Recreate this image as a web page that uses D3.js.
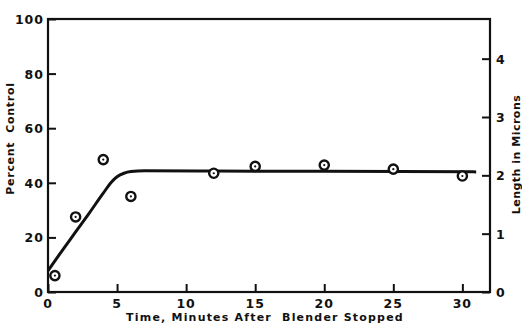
<!DOCTYPE html>
<html>
<head>
<meta charset="utf-8">
<script src="https://cdn.jsdelivr.net/npm/d3@7"></script>
<style>
  body { margin: 0; background: #fff; }
  svg text { font-family: "DejaVu Sans", Verdana, sans-serif; font-weight: bold; fill: #111; white-space: pre; }
</style>
</head>
<body>
<div id="chart"></div>
<script>
// observed points (time in minutes, percent of control)
var pointTimes = [0.5, 2, 4, 6, 12, 15, 20, 25, 30];
var pointValues = [6, 27.5, 48.5, 35, 43.5, 46, 46.5, 45, 42.5];

// hand-drawn fit curve
var curveTimes = [0, 1, 2, 3, 4, 4.6, 5, 5.5, 6, 7, 12, 20, 31];
var curveValues = [7.8, 15, 22, 29, 36.2, 40.3, 42.2, 43.5, 44.1, 44.4, 44.3, 44.2, 44];

var xTicks = [0, 5, 10, 15, 20, 25, 30];
var yTicks = [0, 20, 40, 60, 80, 100];
var lengthTicks = [0, 1, 2, 3, 4];

function drawChart(id) {
    var W = 522, H = 327;
    var margin = { top: 19, right: 32, bottom: 35, left: 48 };
    var width = W - margin.left - margin.right;
    var height = H - margin.top - margin.bottom;

    var svg = d3.select('#' + id)
        .append('svg')
        .attr('width', W)
        .attr('height', H)
        .append('g')
        .attr('transform', `translate(${margin.left}, ${margin.top})`);

    var xScale = d3.scaleLinear().domain([0, 32]).range([0, width]);
    var yScale = d3.scaleLinear().domain([0, 100]).range([height, 0]);
    // right axis: 2 microns sits at ~42.7 percent
    var lenScale = d3.scaleLinear().domain([0, 4.68]).range([height, 0]);

    var xAxis = d3.axisTop(xScale).tickValues(xTicks).tickSize(8).tickFormat("");
    var yAxis = d3.axisRight(yScale).tickValues(yTicks).tickSize(8).tickFormat("");
    var rAxis = d3.axisLeft(lenScale).tickValues(lengthTicks).tickSize(8).tickFormat("");

    // frame
    svg.append('rect')
        .attr('width', width)
        .attr('height', height)
        .attr('fill', 'none')
        .attr('stroke', '#111')
        .attr('stroke-width', 2.2);

    svg.append('g')
        .attr('transform', `translate(0, ${height})`)
        .call(xAxis)
        .call(g => g.select('.domain').remove())
        .selectAll('line').attr('stroke', '#111').attr('stroke-width', 2);

    svg.append('g')
        .call(yAxis)
        .call(g => g.select('.domain').remove())
        .selectAll('line').attr('stroke', '#111').attr('stroke-width', 2);

    svg.append('g')
        .attr('transform', `translate(${width}, 0)`)
        .call(rAxis)
        .call(g => g.select('.domain').remove())
        .selectAll('line').attr('stroke', '#111').attr('stroke-width', 2);

    // tick labels
    svg.selectAll('.xlab').data(xTicks).enter()
        .append('text')
        .attr('x', d => xScale(d))
        .attr('y', height + 16)
        .attr('text-anchor', 'middle')
        .style('font-size', '12.5px')
        .style('letter-spacing', '1px')
        .text(d => d);

    svg.selectAll('.ylab').data(yTicks).enter()
        .append('text')
        .attr('x', -4)
        .attr('y', d => yScale(d) + 5)
        .attr('text-anchor', 'end')
        .style('font-size', '12.5px')
        .style('letter-spacing', '1px')
        .text(d => d);

    svg.selectAll('.rlab').data(lengthTicks).enter()
        .append('text')
        .attr('x', width + 6)
        .attr('y', d => lenScale(d) + 5)
        .attr('text-anchor', 'start')
        .style('font-size', '12.5px')
        .text(d => d);

    // axis titles
    svg.append('text')
        .attr('transform', `translate(${-34}, ${height / 2 - 17}) rotate(-90)`)
        .attr('text-anchor', 'middle')
        .style('font-size', '11px')
        .style('letter-spacing', '0.7px')
        .text('Percent  Control');

    svg.append('text')
        .attr('transform', `translate(${width + 30}, ${height / 2 - 1}) rotate(-90)`)
        .attr('text-anchor', 'middle')
        .style('font-size', '11px')
        .style('letter-spacing', '0.5px')
        .text('Length in Microns');

    svg.append('text')
        .attr('x', 217)
        .attr('y', height + 29)
        .attr('text-anchor', 'middle')
        .style('font-size', '11px')
        .style('letter-spacing', '1.2px')
        .text('Time, Minutes After  Blender Stopped');

    // fit curve
    var line = d3.line()
        .x(d => xScale(d[0]))
        .y(d => yScale(d[1]))
        .curve(d3.curveMonotoneX);

    svg.append('path')
        .datum(d3.zip(curveTimes, curveValues))
        .attr('d', line)
        .attr('fill', 'none')
        .attr('stroke', '#111')
        .attr('stroke-width', 3);

    // points: ring with center dot
    var pts = svg.selectAll('.pt').data(d3.zip(pointTimes, pointValues))
        .enter().append('g')
        .attr('transform', d => `translate(${xScale(d[0])}, ${yScale(d[1])})`);

    pts.append('circle')
        .attr('r', 4.6)
        .attr('fill', '#fff')
        .attr('stroke', '#111')
        .attr('stroke-width', 2.4);

    pts.append('circle')
        .attr('r', 1.1)
        .attr('fill', '#111');
}

drawChart('chart');
</script>
</body>
</html>
